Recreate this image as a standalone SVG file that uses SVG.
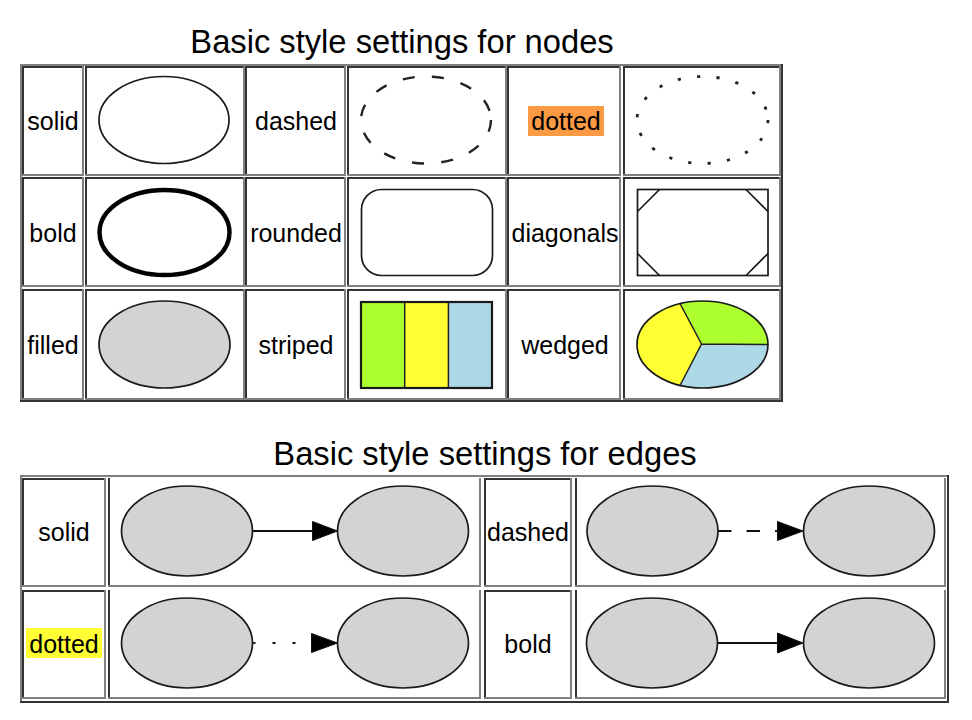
<svg xmlns="http://www.w3.org/2000/svg" width="972" height="720" viewBox="0 0 972 720">
<style>
text{font-family:"Liberation Sans",Arial,Helvetica,sans-serif;fill:#000}
.t{font-size:32.7px;text-anchor:middle}
.c{font-size:25px;text-anchor:middle}
.lt{fill:none;stroke:#808080;stroke-width:2}
.dk{fill:none;stroke:#333;stroke-width:2}
.sh{stroke:#1a1a1a;stroke-width:1.7}
.g{fill:#d3d3d3;stroke:#1a1a1a;stroke-width:1.7}
.e{stroke:#111;stroke-width:1.8;fill:none}
.ah{fill:#000;stroke:#111;stroke-width:1}
</style>
<rect width="972" height="720" fill="#fff"/>

<text class="t" x="402" y="53">Basic style settings for nodes</text>
<text class="t" x="485" y="465">Basic style settings for edges</text>

<g id="table-nodes">
<path class="lt" d="M21 402 V65 H783"/>
<path class="dk" d="M20 401 H782 V64"/>
<path class="dk" d="M23 176 V67 H84 M86 176 V67 H245 M246 176 V67 H346 M348 176 V67 H507 M508 176 V67 H621 M624 176 V67 H781"/>
<path class="lt" d="M83 66 V175 H22 M244 66 V175 H85 M345 66 V175 H245 M506 66 V175 H347 M620 66 V175 H507 M780 66 V175 H623"/>
<path class="dk" d="M23 287 V178 H84 M86 287 V178 H245 M246 287 V178 H346 M348 287 V178 H507 M508 287 V178 H621 M624 287 V178 H781"/>
<path class="lt" d="M83 177 V286 H22 M244 177 V286 H85 M345 177 V286 H245 M506 177 V286 H347 M620 177 V286 H507 M780 177 V286 H623"/>
<path class="dk" d="M23 400 V290 H84 M86 400 V290 H245 M246 400 V290 H346 M348 400 V290 H507 M508 400 V290 H621 M624 400 V290 H781"/>
<path class="lt" d="M83 289 V399 H22 M244 289 V399 H85 M345 289 V399 H245 M506 289 V399 H347 M620 289 V399 H507 M780 289 V399 H623"/>
</g>

<g id="labels-nodes">
<text class="c" x="53" y="130">solid</text>
<text class="c" x="296" y="130">dashed</text>
<rect x="528" y="106" width="76" height="30" fill="#fa9a45"/>
<text class="c" x="566" y="130">dotted</text>
<text class="c" x="53" y="242">bold</text>
<text class="c" x="296" y="242">rounded</text>
<text class="c" x="565" y="242">diagonals</text>
<text class="c" x="53" y="354">filled</text>
<text class="c" x="296" y="354">striped</text>
<text class="c" x="565" y="354">wedged</text>
</g>

<g id="node-solid"><ellipse class="sh" cx="164" cy="120" rx="65" ry="43.5" fill="none"/></g>
<g id="node-dashed"><ellipse cx="426" cy="120" rx="65" ry="43.5" fill="none" stroke="#222" stroke-dasharray="12 17.3" stroke-width="2.4"/></g>
<g id="node-dotted"><ellipse cx="702.5" cy="120" rx="65.5" ry="43.5" fill="none" stroke="#222" stroke-dasharray="3.2 16.3" stroke-width="2.8"/></g>
<g id="node-bold"><ellipse cx="164.5" cy="232.5" rx="65" ry="42.5" fill="none" stroke="#000" stroke-width="4.4"/></g>
<g id="node-rounded"><rect class="sh" x="361.5" y="189.5" width="131" height="86" rx="20" fill="none"/></g>
<g id="node-diagonals">
<rect class="sh" x="637.5" y="189.5" width="130.5" height="86" fill="none"/>
<path class="sh" d="M637.5 211.5 L659.5 189.5 M746 189.5 L768 211.5 M768 253.5 L746 275.5 M659.5 275.5 L637.5 253.5" fill="none"/>
</g>
<g id="node-filled"><ellipse class="g" cx="164.5" cy="344.5" rx="65.5" ry="43.5"/></g>
<g id="node-striped">
<rect x="361" y="302" width="43.7" height="86" fill="#adff2f"/>
<rect x="404.7" y="302" width="43.7" height="86" fill="#ffff33"/>
<rect x="448.4" y="302" width="43.6" height="86" fill="#add8e6"/>
<path d="M404.7 302 V388 M448.4 302 V388" stroke="#222" stroke-width="1.5"/>
<rect x="361" y="302" width="131" height="86" fill="none" stroke="#1a1a1a" stroke-width="2.2"/>
</g>
<g id="node-wedged">
<path d="M701.5 344 L768 344.5 A65.5 43.5 0 0 0 680 303.5 Z" fill="#adff2f"/>
<path d="M701.5 344 L680 303.5 A65.5 43.5 0 0 0 680 385.5 Z" fill="#ffff33"/>
<path d="M701.5 344 L680 385.5 A65.5 43.5 0 0 0 768 344.5 Z" fill="#add8e6"/>
<path d="M680 303.5 L701.5 344 L680 385.5 M701.5 344 L768 344.5" fill="none" stroke="#222" stroke-width="1.5"/>
<ellipse class="sh" cx="702.5" cy="344.5" rx="65.5" ry="43.5" fill="none" stroke-width="2"/>
</g>

<g id="table-edges">
<path class="lt" d="M21 703 V476 H949"/>
<path class="dk" d="M20 702 H948 V475"/>
<path class="dk" d="M23 587 V479 H106 M109 587 V478 M485 587 V479 H572 M576 587 V478"/>
<path class="lt" d="M105 478 V586 H22 M480 478 V586 H108 M571 478 V586 H484 M945 478 V586 H575"/>
<path class="dk" d="M23 699 V591 H106 M109 699 V590 M485 699 V591 H572 M576 699 V590"/>
<path class="lt" d="M105 590 V698 H22 M480 590 V698 H108 M571 590 V698 H484 M945 590 V698 H575"/>
</g>

<g id="labels-edges">
<text class="c" x="64" y="541">solid</text>
<text class="c" x="528" y="541">dashed</text>
<rect x="26" y="628" width="76" height="30" fill="#ffff33"/>
<text class="c" x="64" y="653">dotted</text>
<text class="c" x="528" y="653">bold</text>
</g>

<g id="solid-a"><ellipse class="g" cx="187" cy="531" rx="65.5" ry="45"/></g>
<g id="solid-b"><ellipse class="g" cx="403" cy="531" rx="65.5" ry="45"/></g>
<g id="dashed-a"><ellipse class="g" cx="652.5" cy="531" rx="65.5" ry="45"/></g>
<g id="dashed-b"><ellipse class="g" cx="869" cy="531" rx="65.5" ry="45"/></g>
<g id="dotted-a"><ellipse class="g" cx="187" cy="643" rx="65.5" ry="45"/></g>
<g id="dotted-b"><ellipse class="g" cx="403" cy="643" rx="65.5" ry="45"/></g>
<g id="bold-a"><ellipse class="g" cx="652" cy="643" rx="65.5" ry="45"/></g>
<g id="bold-b"><ellipse class="g" cx="869" cy="643" rx="65.5" ry="45"/></g>

<g id="connectors">
<path class="e" d="M252.5 531 H313"/>
<polygon class="ah" points="312.5,521.5 337.5,531 312.5,540.5"/>
<path class="e" d="M718 531 H778" stroke-width="2.2" stroke-dasharray="13.5 15"/>
<polygon class="ah" points="777.5,521.5 803,531 777.5,540.5"/>
<path class="e" d="M252.5 643 H312" stroke-width="2.6" stroke-dasharray="3 17"/>
<polygon class="ah" points="311.5,633.5 337.5,643 311.5,652.5"/>
<path class="e" d="M717.5 643 H778" stroke-width="3.4"/>
<polygon class="ah" points="777.5,633 803,643 777.5,653"/>
</g>
</svg>
